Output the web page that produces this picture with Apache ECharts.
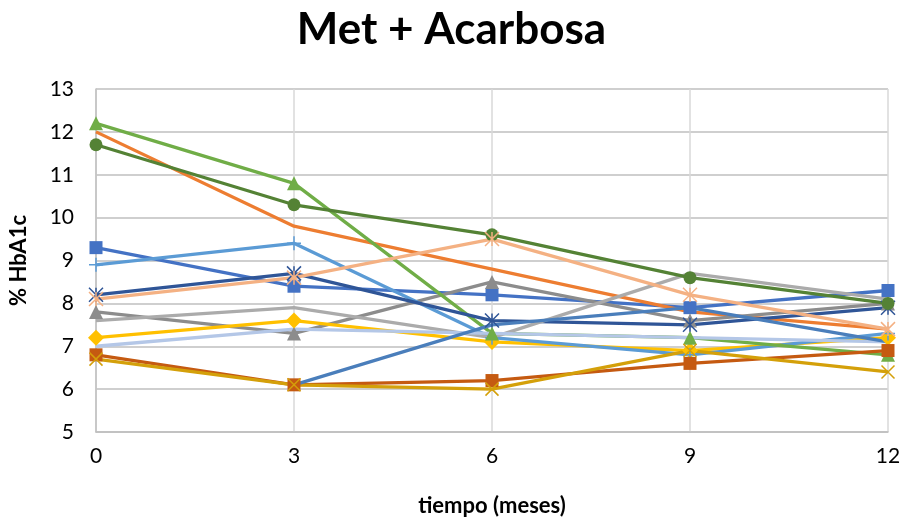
<!DOCTYPE html>
<html><head><meta charset="utf-8">
<script src="https://cdn.jsdelivr.net/npm/echarts@6/dist/echarts.min.js"></script>
<style>html,body{margin:0;padding:0;background:#fff}#c{width:903px;height:520px}</style>
</head><body><div id="c"></div>
<script>
const months = [0, 3, 6, 9, 12];
const sBlueSq     = [9.3, 8.4, 8.2, 7.9, 8.3];
const sOrange     = [12.0, 9.8, 8.8, 7.8, 7.4];
const sGrayTri    = [7.8, 7.3, 8.5, 7.6, 8.0];
const sYellowDia  = [7.2, 7.6, 7.1, 6.9, 7.2];
const sLightBlue  = [8.9, 9.4, 7.2, 6.8, 7.3];
const sGreenTri   = [12.2, 10.8, 7.3, 7.2, 6.8];
const sNavyStar   = [8.2, 8.7, 7.6, 7.5, 7.9];
const sRustSq     = [6.8, 6.1, 6.2, 6.6, 6.9];
const sLightGray  = [7.6, 7.9, 7.2, 8.7, 8.1];
const sGoldX      = [6.7, 6.1, 6.0, 6.9, 6.4];
const sDkGreenCir = [11.7, 10.3, 9.6, 8.6, 8.0];
const sSalmonStar = [8.1, 8.6, 9.5, 8.2, 7.4];
const sPaleBlue   = [7.0, 7.4, 7.3, 7.2, 7.1];
const sSteelBlue  = [null, 6.1, 7.5, 7.9, 7.1];

const X = 'path://M0,0L10,10M10,0L0,10';
const STAR = 'path://M0,0L10,10M10,0L0,10M5,0L5,10';
const PLUS = 'path://M5,0L5,10M0,5L10,5';

function mk(name, data, color, symbol, size, stroke) {
  return {
    name, type: 'line', data: months.map((m, i) => [m, data[i]]),
    symbol: symbol, symbolSize: size, showSymbol: symbol !== 'none',
    lineStyle: { color, width: 3.3 },
    itemStyle: { color: stroke ? 'rgba(0,0,0,0)' : color, borderColor: color, borderWidth: stroke ? 1.5 : 0 },
    connectNulls: false, animation: false, z: 2
  };
}

const series = [
  mk('s1', sBlueSq, '#4472C4', 'rect', 13),
  mk('s2', sOrange, '#ED7D31', 'none', 0),
  mk('s3', sGrayTri, '#8C8C8C', 'triangle', 14),
  mk('s4', sYellowDia, '#FFC000', 'diamond', 16),
  mk('s5', sLightBlue, '#5B9BD5', PLUS, 14, true),
  mk('s6', sGreenTri, '#70AD47', 'triangle', 14),
  mk('s7', sNavyStar, '#2F5597', STAR, 14, true),
  mk('s8', sRustSq, '#C55A11', 'rect', 13),
  mk('s9', sLightGray, '#ABABAB', 'none', 0),
  mk('s10', sGoldX, '#D4A00A', X, 13, true),
  mk('s11', sDkGreenCir, '#548235', 'circle', 13),
  mk('s12', sSalmonStar, '#F4B183', STAR, 14, true),
  mk('s13', sPaleBlue, '#B4C7E7', 'none', 0),
  mk('s14', sSteelBlue, '#4A7EBB', 'none', 0)
];

const chart = echarts.init(document.getElementById('c'));
chart.setOption({
  animation: false,
  backgroundColor: '#fff',
  title: { text: 'Met + Acarbosa', left: 'center', top: 3,
    textStyle: { fontFamily: 'Lato', fontWeight: 'bold', fontSize: 44, color: '#000' } },
  grid: { left: 96, right: 15, top: 89, bottom: 88, outerBoundsMode: 'none', containLabel: false },
  xAxis: {
    type: 'value', min: 0, max: 12, interval: 3,
    name: 'tiempo (meses)', nameLocation: 'middle', nameGap: 63,
    nameTextStyle: { fontFamily: 'Lato', fontWeight: 'bold', fontSize: 22, color: '#000' },
    axisLine: { show: true, onZero: false, lineStyle: { color: '#BFBFBF', width: 1.5 } },
    axisTick: { show: false },
    axisLabel: { fontFamily: 'Lato', fontSize: 21, color: '#000', margin: 14 },
    splitLine: { show: true, lineStyle: { color: '#D9D9D9', width: 1.5 } }
  },
  yAxis: {
    type: 'value', min: 5, max: 13, interval: 1,
    name: '% HbA1c', nameLocation: 'middle', nameGap: 66, nameRotate: 90,
    nameTextStyle: { fontFamily: 'Lato', fontWeight: 'bold', fontSize: 22, color: '#000' },
    axisLine: { show: true, lineStyle: { color: '#BFBFBF', width: 1.5 } },
    axisTick: { show: false },
    axisLabel: { fontFamily: 'Lato', fontSize: 21, color: '#000', margin: 22 },
    splitLine: { show: true, lineStyle: { color: '#BFBFBF', width: 1.5 } }
  },
  series
});
</script></body></html>
